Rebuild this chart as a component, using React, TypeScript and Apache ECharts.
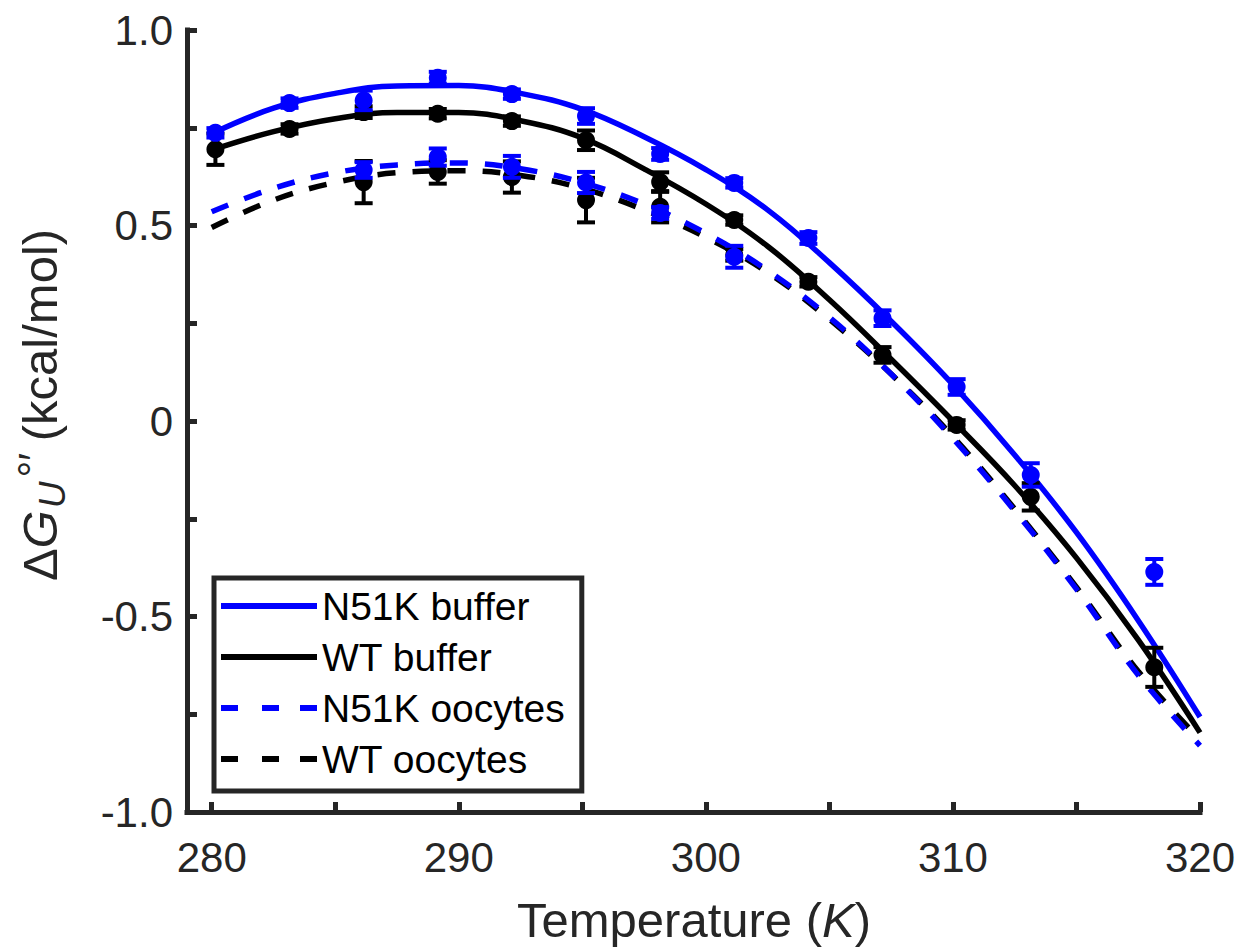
import React, { useEffect, useRef } from 'react';
import * as echarts from 'echarts';

// ---- measured data (T in K, ΔG in kcal/mol) ----
const bufferTemps = [280.15, 283.15, 286.15, 289.15, 292.15, 295.15, 298.15, 301.15, 304.15, 307.15, 310.15, 313.15, 318.15];
const n51kBuffer = [0.737, 0.813, 0.82, 0.878, 0.836, 0.78, 0.683, 0.609, 0.468, 0.263, 0.087, -0.138, -0.386];
const n51kBufferErr = [0.012, 0.012, 0.025, 0.015, 0.012, 0.02, 0.015, 0.012, 0.015, 0.02, 0.02, 0.03, 0.033];
const wtBuffer = [0.695, 0.747, 0.79, 0.786, 0.767, 0.718, 0.611, 0.514, 0.356, 0.169, -0.01, -0.194, -0.63];
const wtBufferErr = [0.04, 0.012, 0.015, 0.012, 0.012, 0.025, 0.025, 0.012, 0.012, 0.02, 0.012, 0.035, 0.05];

const oocyteTemps = [286.15, 289.15, 292.15, 295.15, 298.15, 301.15];
const n51kOocytes = [0.642, 0.675, 0.65, 0.61, 0.532, 0.42];
const n51kOocytesErr = [0.02, 0.022, 0.028, 0.027, 0.015, 0.028];
const wtOocytes = [0.611, 0.637, 0.624, 0.565, 0.548, 0.425];
const wtOocytesErr = [0.054, 0.03, 0.04, 0.057, 0.04, 0.015];

// ---- fitted curves, read at regular temperatures ----
const fitTemps = [280, 282.5, 285, 287.5, 290, 292.5, 295, 297.5, 300, 302.5, 305, 307.5, 310, 312.5, 315, 317.5, 320];
const n51kBufferFit = [0.735, 0.8, 0.838, 0.857, 0.858, 0.838, 0.797, 0.727, 0.643, 0.54, 0.405, 0.255, 0.093, -0.087, -0.285, -0.51, -0.757];
const wtBufferFit = [0.693, 0.74, 0.773, 0.789, 0.789, 0.768, 0.724, 0.645, 0.555, 0.447, 0.31, 0.158, 0.0, -0.165, -0.35, -0.56, -0.797];
const n51kOocytesFit = [0.535, 0.595, 0.635, 0.655, 0.66, 0.645, 0.61, 0.555, 0.48, 0.385, 0.265, 0.12, -0.045, -0.23, -0.43, -0.65, -0.83];
const wtOocytesFit = [0.495, 0.565, 0.61, 0.635, 0.64, 0.628, 0.595, 0.54, 0.47, 0.38, 0.26, 0.12, -0.04, -0.225, -0.425, -0.64, -0.815];

// ---- axes ----
const xTickValues = [280, 285, 290, 295, 300, 305, 310, 315, 320];
const xLabelValues = [280, 290, 300, 310, 320];
const yTickValues = [-1, -0.75, -0.5, -0.25, 0, 0.25, 0.5, 0.75, 1];
const yLabelValues = [-1, -0.5, 0, 0.5, 1];

const seriesNames = ['N51K buffer', 'WT buffer', 'N51K oocytes', 'WT oocytes'];

const BLUE = '#0000ff';
const BLACK = '#000000';
const AXIS = '#262626';
const FONT = "'Liberation Sans', Arial, Helvetica, sans-serif";

const SOLID_ICON = 'path://M0,0H96V6H0Z';
const DASH_ICON = 'path://M0,0H17V6H0Z M41,0H58V6H41Z M79,0H96V6H79Z';

const zip = (xs: number[], ys: number[]) => xs.map((x, i) => [x, ys[i]]);

function errorBars(name: string, temps: number[], vals: number[], errs: number[], color: string, z: number) {
  return {
    type: 'custom',
    name,
    silent: true,
    z,
    data: temps.map((t, i) => [t, vals[i], errs[i]]),
    encode: { x: 0, y: 1 },
    renderItem: (_params: any, api: any) => {
      const x = api.value(0);
      const y = api.value(1);
      const e = api.value(2);
      const top = api.coord([x, y + e]);
      const bot = api.coord([x, y - e]);
      const hw = 9;
      const st = { stroke: color, lineWidth: 4 };
      return {
        type: 'group',
        children: [
          { type: 'line', shape: { x1: top[0], y1: top[1], x2: bot[0], y2: bot[1] }, style: st },
          { type: 'line', shape: { x1: top[0] - hw, y1: top[1], x2: top[0] + hw, y2: top[1] }, style: st },
          { type: 'line', shape: { x1: bot[0] - hw, y1: bot[1], x2: bot[0] + hw, y2: bot[1] }, style: st },
        ],
      };
    },
  };
}

function fitLine(name: string, ys: number[], color: string, dashed: boolean, z: number) {
  return {
    type: 'line',
    name,
    data: zip(fitTemps, ys),
    symbol: 'none',
    smooth: 0.4,
    z,
    lineStyle: { color, width: 5.5, type: dashed ? [18, 17] : 'solid' },
    itemStyle: { color },
  };
}

function points(name: string, temps: number[], vals: number[], color: string, z: number) {
  return {
    type: 'scatter',
    name,
    data: zip(temps, vals),
    symbol: 'circle',
    symbolSize: 18,
    z,
    itemStyle: { color, opacity: 1 },
  };
}

export default function App() {
  const ref = useRef<HTMLDivElement>(null);

  useEffect(() => {
    if (!ref.current) return;
    const chart = echarts.init(ref.current, null, { renderer: 'svg' });
    const option: any = {
      animation: false,
      backgroundColor: '#ffffff',
      grid: { left: 187, right: 40, top: 30, bottom: 135, containLabel: false },
      xAxis: {
        type: 'value',
        min: 279,
        max: 320,
        splitLine: { show: false },
        axisLine: { show: true, onZero: false, lineStyle: { color: AXIS, width: 5, cap: 'square' } },
        axisTick: { show: true, inside: true, length: 10, customValues: xTickValues, lineStyle: { color: AXIS, width: 5 } },
        axisLabel: {
          show: true,
          customValues: xLabelValues,
          margin: 24,
          color: AXIS,
          fontSize: 42,
          fontFamily: FONT,
          formatter: (v: number) => String(Math.round(v)),
        },
      },
      yAxis: {
        type: 'value',
        min: -1,
        max: 1,
        splitLine: { show: false },
        axisLine: { show: true, onZero: false, lineStyle: { color: AXIS, width: 5, cap: 'square' } },
        axisTick: { show: true, inside: true, length: 10, customValues: yTickValues, lineStyle: { color: AXIS, width: 5 } },
        axisLabel: {
          show: true,
          customValues: yLabelValues,
          margin: 14,
          color: AXIS,
          fontSize: 42,
          fontFamily: FONT,
          formatter: (v: number) => (Math.abs(v) < 1e-9 ? '0' : v.toFixed(1)),
        },
      },
      legend: {
        data: [
          { name: seriesNames[0], icon: SOLID_ICON },
          { name: seriesNames[1], icon: SOLID_ICON },
          { name: seriesNames[2], icon: DASH_ICON },
          { name: seriesNames[3], icon: DASH_ICON },
        ],
        orient: 'vertical',
        left: 214,
        top: 578,
        padding: [8, 17, 12, 7],
        itemGap: 11,
        itemWidth: 96,
        itemHeight: 6,
        backgroundColor: '#ffffff',
        borderColor: AXIS,
        borderWidth: 5,
        borderRadius: 0,
        selectedMode: false,
        textStyle: { fontSize: 39, lineHeight: 40, color: '#000', fontFamily: FONT },
      },
      graphic: [
        {
          type: 'text',
          x: 40,
          y: 405,
          rotation: Math.PI / 2,
          style: {
            text: '{n|Δ}{i|G}{sub|U}{sup|°′ }{n|(kcal/mol)}',
            align: 'center',
            verticalAlign: 'middle',
            fill: AXIS,
            rich: {
              n: { fontSize: 49, fontFamily: FONT, fill: AXIS },
              i: { fontSize: 49, fontFamily: FONT, fontStyle: 'italic', fill: AXIS },
              sub: { fontSize: 37, fontFamily: FONT, fontStyle: 'italic', fill: AXIS, padding: [24, 0, 0, 2] },
              sup: { fontSize: 42, fontFamily: FONT, fill: AXIS, padding: [0, 0, 14, 4] },
            },
          },
        },
        {
          type: 'text',
          x: 694,
          y: 920,
          style: {
            text: '{n|Temperature (}{i|K}{n|)}',
            align: 'center',
            verticalAlign: 'middle',
            fill: AXIS,
            rich: {
              n: { fontSize: 49, fontFamily: FONT, fill: AXIS },
              i: { fontSize: 49, fontFamily: FONT, fontStyle: 'italic', fill: AXIS },
            },
          },
        },
      ],
      series: [
        fitLine(seriesNames[0], n51kBufferFit, BLUE, false, 2),
        fitLine(seriesNames[1], wtBufferFit, BLACK, false, 2),
        fitLine(seriesNames[3], wtOocytesFit, BLACK, true, 2),
        fitLine(seriesNames[2], n51kOocytesFit, BLUE, true, 2),
        errorBars('WT buffer err', bufferTemps, wtBuffer, wtBufferErr, BLACK, 3),
        errorBars('WT oocytes err', oocyteTemps, wtOocytes, wtOocytesErr, BLACK, 3),
        points('WT buffer data', bufferTemps, wtBuffer, BLACK, 3),
        points('WT oocytes data', oocyteTemps, wtOocytes, BLACK, 3),
        errorBars('N51K buffer err', bufferTemps, n51kBuffer, n51kBufferErr, BLUE, 4),
        errorBars('N51K oocytes err', oocyteTemps, n51kOocytes, n51kOocytesErr, BLUE, 4),
        points('N51K buffer data', bufferTemps, n51kBuffer, BLUE, 4),
        points('N51K oocytes data', oocyteTemps, n51kOocytes, BLUE, 4),
      ],
    };
    chart.setOption(option);
    return () => chart.dispose();
  }, []);

  return (
    <div
      ref={ref}
      style={{ position: 'fixed', left: 0, top: 0, width: 1240, height: 947, background: '#fff' }}
    />
  );
}
